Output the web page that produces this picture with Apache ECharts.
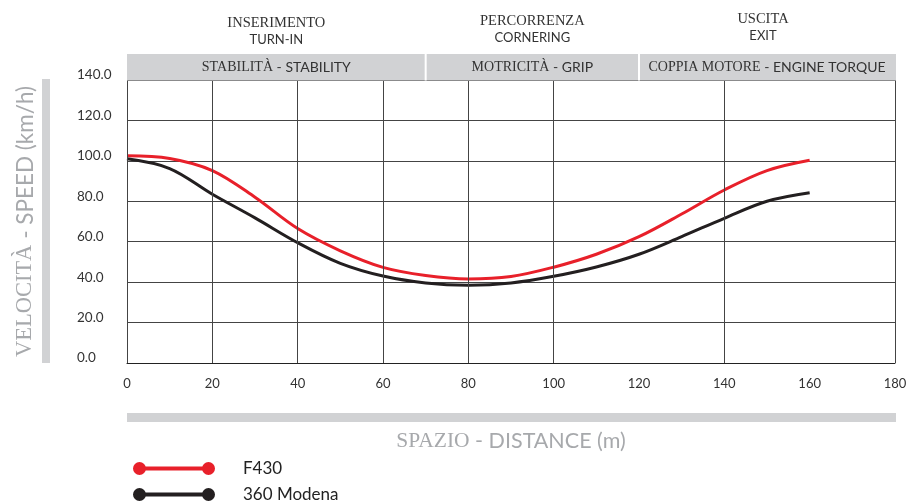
<!DOCTYPE html>
<html>
<head>
<meta charset="utf-8">
<script src="https://cdn.jsdelivr.net/npm/echarts@6/dist/echarts.min.js"></script>
<style>
html,body{margin:0;padding:0;background:#fff;}
#chart{width:911px;height:502px;}
</style>
</head>
<body>
<div id="chart"></div>
<script>
// ---- data ----
const distance = [0, 10, 20, 30, 40, 50, 60, 70, 80, 90, 100, 110, 120, 130, 140, 150, 160];
const f430     = [102.5, 101.2, 95.2, 82, 66.5, 55.5, 47.3, 43.3, 41.6, 42.8, 47.4, 53.8, 62.5, 73.7, 85.6, 95.2, 100.3];
const modena   = [101, 96.2, 83.5, 71.8, 59.5, 49.3, 43.0, 39.6, 38.5, 39.6, 42.9, 47.5, 53.8, 62.5, 71.6, 80.0, 84.2];
const seriesNames = ['F430', '360 Modena'];
const seriesColors = ['#e8202a', '#231f20'];
const verticalGrid = [0, 20, 40, 60, 80, 100, 140, 180];
const zoneBounds = [[0, 70], [70, 120], [120, 180]];
const phaseIt = ['INSERIMENTO', 'PERCORRENZA', 'USCITA'];
const phaseEn = ['TURN-IN', 'CORNERING', 'EXIT'];
const zoneIt = ['STABILITÀ', 'MOTRICITÀ', 'COPPIA MOTORE'];
const zoneEn = ['STABILITY', 'GRIP', 'ENGINE TORQUE'];

const SERIF = '"Liberation Serif", "DejaVu Serif", serif';
const SANS = 'Lato, "Open Sans", sans-serif';

const chart = echarts.init(document.getElementById('chart'), null, {renderer: 'canvas'});

const legendIcon = 'path://M6.5,0A6.5,6.5 0 1 1 6.5,13A6.5,6.5 0 1 1 6.5,0Z M6.5,4.6L75.5,4.6L75.5,8.4L6.5,8.4Z M75.5,0A6.5,6.5 0 1 1 75.5,13A6.5,6.5 0 1 1 75.5,0Z';
const legendBase = {
  orient: 'vertical', left: 128,
  itemWidth: 82, itemHeight: 13,
  icon: legendIcon,
  textStyle: {fontFamily: SANS, fontSize: 17, color: '#222', padding: [0, 0, 0, 23]}
};

const series = [
  {
    name: 'grid-lines', type: 'line', data: [], z: 1, silent: true,
    markLine: {
      silent: true, symbol: ['none', 'none'], label: {show: false},
      lineStyle: {color: '#444', width: 1, type: 'solid'},
      data: verticalGrid.map(v => ({xAxis: v}))
    }
  }
];
[f430, modena].forEach((vals, k) => {
  series.push({
    name: seriesNames[k], type: 'line', smooth: 0.35, showSymbol: false, z: 3,
    color: seriesColors[k],
    lineStyle: {color: seriesColors[k], width: 3},
    data: distance.map((d, i) => [d, vals[i]])
  });
});

const option = {
  animation: false,
  backgroundColor: '#fff',
  grid: {left: 127, right: 16, top: 80, bottom: 139, containLabel: false},
  legend: [
    Object.assign({}, legendBase, {top: 455, data: [seriesNames[0]]}),
    Object.assign({}, legendBase, {top: 481, data: [seriesNames[1]]})
  ],
  xAxis: {
    type: 'value', min: 0, max: 180, interval: 20,
    axisLine: {show: true, lineStyle: {color: '#222', width: 1}},
    axisTick: {show: false},
    splitLine: {show: false},
    axisLabel: {color: '#333', fontFamily: SANS, fontSize: 13, margin: 14},
    name: '{s|SPAZIO}{n| - DISTANCE (m)}',
    nameLocation: 'middle', nameGap: 67,
    nameTextStyle: {
      color: '#a7a9ac',
      rich: {
        s: {fontFamily: SERIF, fontSize: 21.5, color: '#a7a9ac'},
        n: {fontFamily: SANS, fontSize: 21.5, color: '#a7a9ac'}
      }
    }
  },
  yAxis: {
    type: 'value', min: 0, max: 140, interval: 20,
    axisLine: {show: true, lineStyle: {color: '#222', width: 1}},
    axisTick: {show: false},
    splitLine: {show: true, lineStyle: {color: '#444', width: 1}},
    axisLabel: {
      color: '#333', fontFamily: SANS, fontSize: 13.5, margin: 50, align: 'left',
      verticalAlign: 'bottom', lineHeight: 10,
      formatter: v => v.toFixed(1)
    },
    name: '{s|VELOCITÀ}{n| - SPEED (km/h)}',
    nameLocation: 'middle', nameGap: 90, nameRotate: 90,
    nameTextStyle: {
      color: '#a7a9ac',
      rich: {
        s: {fontFamily: SERIF, fontSize: 22.5, color: '#a7a9ac'},
        n: {fontFamily: SANS, fontSize: 22.5, color: '#a7a9ac'}
      }
    }
  },
  series: series
};
chart.setOption(option);

// ---- decorations positioned from the chart's own scales ----
const y140 = chart.convertToPixel({yAxisIndex: 0}, 140);
const y0 = chart.convertToPixel({yAxisIndex: 0}, 0);
const xL = chart.convertToPixel({xAxisIndex: 0}, 0);
const xR = chart.convertToPixel({xAxisIndex: 0}, 180);
const barTop = y140 - 26;
const graphics = [];
graphics.push({type: 'rect', shape: {x: xL, y: barTop, width: xR - xL + 1, height: 26.5}, style: {fill: '#d1d2d4'}, z: 10, silent: true});
zoneBounds.forEach((b, i) => {
  const a = chart.convertToPixel({xAxisIndex: 0}, b[0]);
  const c = chart.convertToPixel({xAxisIndex: 0}, b[1]);
  const cx = (a + c) / 2;
  if (i > 0) {
    graphics.push({type: 'rect', shape: {x: a - 1, y: barTop, width: 2, height: 26.5}, style: {fill: '#fff'}, z: 11, silent: true});
  }
  graphics.push({
    type: 'text', x: cx, y: barTop + 13, z: 12, silent: true,
    style: {
      text: '{s|' + zoneIt[i] + '}{n| - ' + zoneEn[i] + '}',
      align: 'center', verticalAlign: 'middle',
      rich: {
        s: {fontFamily: SERIF, fontSize: 14, fill: '#333'},
        n: {fontFamily: SANS, fontSize: 14, fill: '#333'}
      }
    }
  });
  const topOff = [0, -2, -4][i];
  const tx = cx - (i === 2 ? 4 : 0);
  graphics.push({
    type: 'text', x: tx, y: 23 + topOff, z: 12, silent: true,
    style: {text: phaseIt[i], font: '14.5px ' + SERIF, fill: '#333', align: 'center', verticalAlign: 'middle'}
  });
  graphics.push({
    type: 'text', x: tx, y: 40 + topOff, z: 12, silent: true,
    style: {text: phaseEn[i], font: '13px ' + SANS, fill: '#333', align: 'center', verticalAlign: 'middle'}
  });
});
graphics.push({type: 'rect', shape: {x: 42, y: y140 - 1, width: 8, height: y0 - y140 + 1}, style: {fill: '#d1d2d4'}, z: 5, silent: true});
graphics.push({type: 'rect', shape: {x: xL, y: y0 + 50, width: xR - xL + 1, height: 9}, style: {fill: '#d1d2d4'}, z: 5, silent: true});
chart.setOption({graphic: graphics});
</script>
</body>
</html>
